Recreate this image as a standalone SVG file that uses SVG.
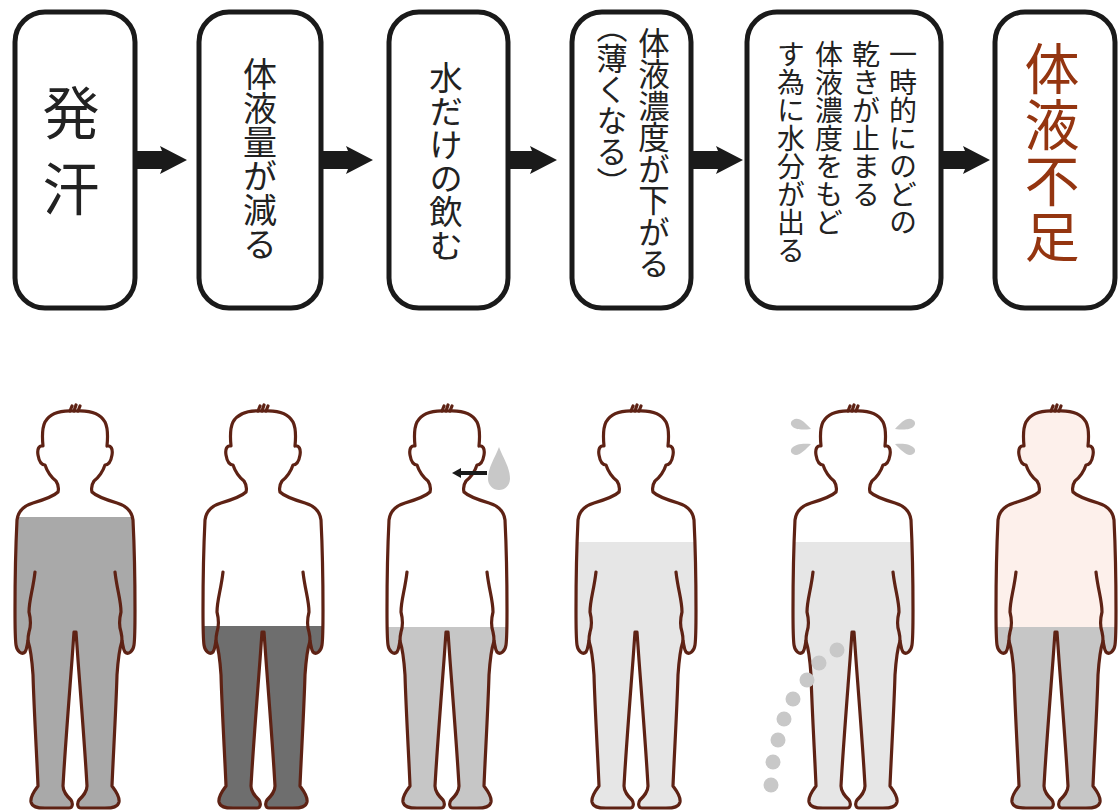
<svg xmlns="http://www.w3.org/2000/svg" xmlns:xlink="http://www.w3.org/1999/xlink" width="1118" height="812" viewBox="0 0 1118 812">
  <style>
    .box { fill: #ffffff; stroke: #1a1a1a; stroke-width: 5; }
    .v { font-family: "Noto Sans CJK JP", "Noto Sans CJK SC", sans-serif; writing-mode: vertical-rl; fill: #222222; }
    .red { fill: #943510; }
    .outline { fill: none; stroke: #5e2214; stroke-width: 3.2; stroke-linejoin: round; stroke-linecap: round; }
    .arrow { fill: #1a1a1a; }
    .mist { fill: #c8c8c8; }
  </style>
  <defs>
    <!-- body silhouette, centred on x = 0 -->
    <path id="body" d="M 0 411 C -13 410 -25 413 -30 422 C -33 428 -33 436 -32 446 C -36 445 -38 449 -37 455 C -36 461 -34 465 -30 465 C -28 471 -24 477 -19 481 C -17 484 -16 488 -17 492 C -22 497 -32 500 -42 503 C -52 506 -57 511 -58 520 C -59 540 -60 580 -60 610 C -60 625 -60 638 -59 645 C -58 652 -53 655 -50 652 C -48 649 -48 645 -47 641 C -44 650 -43 660 -42 675 C -41 710 -38 760 -37 786 C -40 790 -45 796 -44 802 C -43 807 -38 808 -30 808 L -6 808 C -2 808 -2 803 -4 800 C -8 796 -12 792 -12 786 C -10 750 -6 700 -3 660 L -1 632 L 1 632 L 3 660 C 6 700 10 750 12 786 C 12 792 8 796 4 800 C 2 803 2 808 6 808 L 30 808 C 38 808 43 807 44 802 C 45 796 40 790 37 786 C 38 760 41 710 42 675 C 43 660 44 650 47 641 C 48 645 48 649 50 652 C 53 655 58 652 59 645 C 60 638 60 625 60 610 C 60 580 59 540 58 520 C 57 511 52 506 42 503 C 32 500 22 497 17 492 C 16 488 17 484 19 481 C 24 477 28 471 30 465 C 34 465 36 461 37 455 C 38 449 36 445 32 446 C 33 436 33 428 30 422 C 25 413 13 410 0 411 Z"/>
    <!-- arm/torso separation lines and hair tuft -->
    <path id="details" d="M -40 572 C -42 590 -46 600 -46 612 C -44 620 -44 626 -46 632 C -47 636 -47 639 -47 641 M 40 572 C 42 590 46 600 46 612 C 44 620 44 626 46 632 C 47 636 47 639 47 641 M -5 411 L -3 406 M -1 411 L 1 405 M 3 411 L 5 406"/>
    <clipPath id="bodyClip" clipPathUnits="userSpaceOnUse">
      <use xlink:href="#body"/>
    </clipPath>
  </defs>

  <rect width="1118" height="812" fill="#ffffff"/>

  <!-- flow boxes -->
  <g id="node-sweat">
    <rect class="box" x="15" y="12" width="120" height="296" rx="30"/>
    <text class="v" x="71" y="84" style="font-size:57px; letter-spacing:19px">発汗</text>
  </g>
  <g id="node-volume">
    <rect class="box" x="199" y="12" width="122" height="296" rx="30"/>
    <text class="v" x="260" y="57" style="font-size:34px">体液量が減る</text>
  </g>
  <g id="node-water">
    <rect class="box" x="389" y="12" width="119" height="296" rx="30"/>
    <text class="v" x="446" y="61" style="font-size:33.5px">水だけの飲む</text>
  </g>
  <g id="node-dilute">
    <rect class="box" x="572" y="12" width="119" height="296" rx="30"/>
    <text class="v" x="654" y="27" style="font-size:31.5px">体液濃度が下がる</text>
    <text class="v" x="612" y="12" style="font-size:31px">（薄くなる）</text>
  </g>
  <g id="node-thirst">
    <rect class="box" x="747" y="12" width="194" height="296" rx="30"/>
    <text class="v" x="903" y="40" style="font-size:28px">一時的にのどの</text>
    <text class="v" x="866" y="40" style="font-size:28px">乾きが止まる</text>
    <text class="v" x="829" y="40" style="font-size:28px">体液濃度をもど</text>
    <text class="v" x="791" y="40" style="font-size:28px">す為に水分が出る</text>
  </g>
  <g id="node-shortage">
    <rect class="box" x="995" y="12" width="120" height="296" rx="30"/>
    <text class="v red" x="1052" y="41" style="font-size:55px; letter-spacing:1px">体液不足</text>
  </g>

  <!-- block arrows between the boxes -->
  <g id="connectors">
    <path class="arrow" d="M 137 151 L 162 151 L 160 146 L 187 160 L 160 174 L 162 169 L 137 169 Z"/>
    <path class="arrow" d="M 323 151 L 348 151 L 346 146 L 373 160 L 346 174 L 348 169 L 323 169 Z"/>
    <path class="arrow" d="M 510 151 L 532 151 L 530 146 L 557 160 L 530 174 L 532 169 L 510 169 Z"/>
    <path class="arrow" d="M 693 151 L 718 151 L 716 146 L 743 160 L 716 174 L 718 169 L 693 169 Z"/>
    <path class="arrow" d="M 943 151 L 965 151 L 963 146 L 990 160 L 963 174 L 965 169 L 943 169 Z"/>
  </g>

  <!-- figures -->
  <g id="figure-1" transform="translate(75 0)">
    <g clip-path="url(#bodyClip)">
      <rect x="-70" y="400" width="140" height="420" fill="#ffffff"/>
      <rect x="-70" y="517" width="140" height="300" fill="#a9a9a9"/>
    </g>
    <use xlink:href="#body" class="outline"/>
    <use xlink:href="#details" class="outline"/>
  </g>
  <g id="figure-2" transform="translate(263 0)">
    <g clip-path="url(#bodyClip)">
      <rect x="-70" y="400" width="140" height="420" fill="#ffffff"/>
      <rect x="-70" y="626" width="140" height="200" fill="#6e6e6e"/>
    </g>
    <use xlink:href="#body" class="outline"/>
    <use xlink:href="#details" class="outline"/>
  </g>
  <g id="figure-3" transform="translate(447 0)">
    <g clip-path="url(#bodyClip)">
      <rect x="-70" y="400" width="140" height="420" fill="#ffffff"/>
      <rect x="-70" y="627" width="140" height="200" fill="#c6c6c6"/>
    </g>
    <use xlink:href="#body" class="outline"/>
    <use xlink:href="#details" class="outline"/>
    <!-- water drop and drinking arrow -->
    <path class="mist" d="M 52 447 C 56 458 63 467 63 479 A 11 11 0 0 1 41 479 C 41 467 48 458 52 447 Z"/>
    <path d="M 40 473 L 12 473" stroke="#1a1a1a" stroke-width="4"/>
    <path class="arrow" d="M 5 473 L 14 468 L 14 478 Z"/>
  </g>
  <g id="figure-4" transform="translate(636 0)">
    <g clip-path="url(#bodyClip)">
      <rect x="-70" y="400" width="140" height="420" fill="#ffffff"/>
      <rect x="-70" y="542" width="140" height="300" fill="#e6e6e6"/>
    </g>
    <use xlink:href="#body" class="outline"/>
    <use xlink:href="#details" class="outline"/>
  </g>
  <g id="figure-5" transform="translate(853 0)">
    <g clip-path="url(#bodyClip)">
      <rect x="-70" y="400" width="140" height="420" fill="#ffffff"/>
      <rect x="-70" y="542" width="140" height="300" fill="#e6e6e6"/>
    </g>
    <use xlink:href="#body" class="outline"/>
    <use xlink:href="#details" class="outline"/>
    <!-- flick marks beside the head -->
    <path class="mist" d="M -60 420 C -55 416 -48 422 -42 429 C -50 430 -58 430 -61 426 C -63 424 -62 421 -60 420 Z"/>
    <path class="mist" d="M -60 454 C -55 458 -48 450 -42 444 C -50 443 -58 444 -61 448 C -63 450 -62 453 -60 454 Z"/>
    <path class="mist" d="M 60 420 C 55 416 48 422 42 429 C 50 430 58 430 61 426 C 63 424 62 421 60 420 Z"/>
    <path class="mist" d="M 60 454 C 55 458 48 450 42 444 C 50 443 58 444 61 448 C 63 450 62 453 60 454 Z"/>
    <!-- trail of droplets leaving the body -->
    <circle class="mist" cx="-16" cy="650" r="7.5"/>
    <circle class="mist" cx="-34" cy="663" r="7.5"/>
    <circle class="mist" cx="-46" cy="680" r="7.5"/>
    <circle class="mist" cx="-60" cy="699" r="7.5"/>
    <circle class="mist" cx="-69" cy="719" r="7.5"/>
    <circle class="mist" cx="-75" cy="740" r="7.5"/>
    <circle class="mist" cx="-80" cy="762" r="7.5"/>
    <circle class="mist" cx="-82" cy="785" r="7.5"/>
  </g>
  <g id="figure-6" transform="translate(1056 0)">
    <g clip-path="url(#bodyClip)">
      <rect x="-70" y="400" width="140" height="420" fill="#fdf0eb"/>
      <rect x="-70" y="627" width="140" height="200" fill="#c6c6c6"/>
    </g>
    <use xlink:href="#body" class="outline"/>
    <use xlink:href="#details" class="outline"/>
  </g>
</svg>
